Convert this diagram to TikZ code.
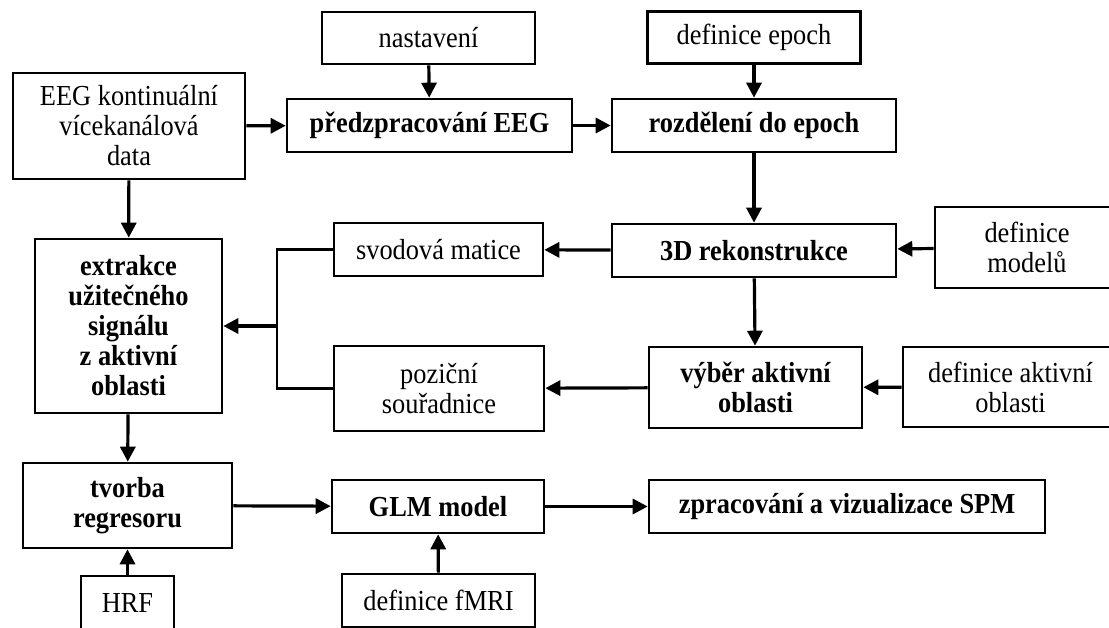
\documentclass[tikz,border=0pt]{standalone}
\usepackage{fontspec}
\setmainfont{Liberation Serif}[FakeStretch=0.91]
\usetikzlibrary{arrows.meta}

\begin{document}
\begin{tikzpicture}[x=1pt,y=-1pt,
    box/.style={draw,line width=2.6pt,align=center,inner sep=0pt,
      font=\fontsize{29}{30}\selectfont},
    bbox/.style={box,font=\fontsize{29}{30}\selectfont\bfseries},
    arr/.style={line width=3.2pt,-{Triangle[length=15pt,width=15pt]}}]
    \useasboundingbox (0,0) rectangle (1109,628);
    \clip (0,0) rectangle (1109,628);

    % inputs
    \node[box,minimum width=213pt,minimum height=52pt] (nast) at (428.5,38) {nastavení};
    \node[box,minimum width=213pt,minimum height=52pt] (defep) at (754,37.5) {definice epoch};
    \node[box,minimum width=232pt,minimum height=106pt] (eeg) at (129,126)
      {EEG kontinuální\\vícekanálová\\data};
    \node[box,minimum width=184pt,minimum height=81pt] (modely) at (1027,247.5)
      {definice\\modelů};
    \node[box,minimum width=215pt,minimum height=80pt] (defakt) at (1010.5,387)
      {definice aktivní\\oblasti};
    \node[box,minimum width=93pt,minimum height=54pt] (hrf) at (127.5,603) {HRF};
    \node[box,minimum width=193pt,minimum height=53pt] (deffmri) at (438.5,600.5)
      {definice fMRI};

    % processing steps
    \node[bbox,minimum width=285pt,minimum height=53pt] (predz) at (429.5,125.5)
      {předzpracování EEG};
    \node[bbox,minimum width=284pt,minimum height=53pt] (rozd) at (754,125.5)
      {rozdělení do epoch};
    \node[bbox,minimum width=284pt,minimum height=53pt] (rek) at (754,250.5)
      {3D rekonstrukce};
    \node[bbox,minimum width=213pt,minimum height=81pt] (vyber) at (755.5,387.5)
      {výběr aktivní\\oblasti};
    \node[bbox,minimum width=187pt,minimum height=174pt] (extr) at (128.5,326)
      {extrakce\\užitečného\\signálu\\z aktivní\\oblasti};
    \node[bbox,minimum width=209pt,minimum height=85pt] (tvorba) at (127.5,505.5)
      {tvorba\\regresoru};
    \node[bbox,minimum width=212pt,minimum height=53pt] (glm) at (438,506.5) {GLM model};
    \node[bbox,minimum width=396pt,minimum height=53pt] (spm) at (847,506.5)
      {zpracování a vizualizace SPM};

    % outputs of the reconstruction
    \node[box,minimum width=209pt,minimum height=53pt] (svod) at (438.5,249.5) {svodová matice};
    \node[box,minimum width=210pt,minimum height=85pt] (poz) at (439,388.5)
      {poziční\\souřadnice};

    \coordinate (jn) at (277,326);

    \draw[arr] (nast) -- (predz);
    \draw[arr] (defep) -- (rozd);
    \draw[arr] (eeg) -- (predz);
    \draw[arr] (predz) -- (rozd);
    \draw[arr] (eeg) -- (extr);
    \draw[arr] (rozd) -- (rek);
    \draw[arr] (modely) -- (rek);
    \draw[arr] (rek) -- (svod);
    \draw[arr] (rek) -- (vyber);
    \draw[arr] (defakt) -- (vyber);
    \draw[arr] (vyber) -- (poz);
    \draw[line width=2.6pt] (svod.west) -| (jn) |- (poz.west);
    \draw[arr] (jn) -- (extr);
    \draw[arr] (extr) -- (tvorba);
    \draw[arr] (hrf) -- (tvorba);
    \draw[arr] (tvorba) -- (glm);
    \draw[arr] (deffmri) -- (glm);
    \draw[arr] (glm) -- (spm);
\end{tikzpicture}
\end{document}
